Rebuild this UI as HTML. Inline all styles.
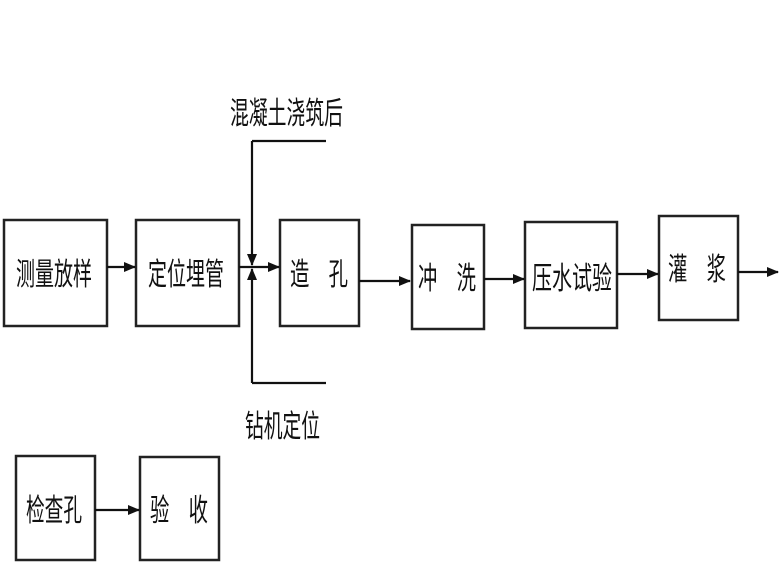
<!DOCTYPE html>
<html><head><meta charset="utf-8"><style>
html,body{margin:0;padding:0;background:#fff;}
svg{display:block;}
text{font-family:"Liberation Sans","Noto Sans CJK SC",sans-serif;font-size:31px;fill:#111;}
</style></head><body>
<svg width="780" height="585" viewBox="0 0 780 585" xmlns="http://www.w3.org/2000/svg">
<defs><marker id="a" markerWidth="12" markerHeight="10" refX="11" refY="5" orient="auto" markerUnits="userSpaceOnUse"><path d="M0,0 L12,5 L0,10 Z" fill="#111"/></marker></defs>
<g fill="none" stroke="#222" stroke-width="2.5">
<rect x="4" y="220" width="103" height="106"/>
<rect x="136" y="220" width="103" height="106"/>
<rect x="280" y="220" width="79" height="106"/>
<rect x="412" y="225" width="72" height="104"/>
<rect x="525" y="222" width="92" height="106"/>
<rect x="659" y="216" width="79" height="104"/>
<rect x="16" y="456" width="79" height="104"/>
<rect x="140" y="457" width="79" height="103"/>
</g>
<g stroke="#111" stroke-width="2.2" fill="none" marker-end="url(#a)">
<line x1="107" y1="267" x2="135" y2="267"/>
<line x1="239" y1="267" x2="279" y2="267"/>
<line x1="252" y1="141" x2="252" y2="265"/>
<line x1="252" y1="383" x2="252" y2="269"/>
<line x1="359" y1="281" x2="410" y2="281"/>
<line x1="484" y1="279" x2="524" y2="279"/>
<line x1="617" y1="274" x2="658" y2="274"/>
<line x1="738" y1="272" x2="778" y2="272"/>
<line x1="95" y1="510" x2="139" y2="510"/>
</g>
<g stroke="#111" stroke-width="2.2">
<line x1="252" y1="141" x2="326" y2="141"/>
<line x1="252" y1="383" x2="326" y2="383"/>
</g>
<text x="230" y="124" textLength="113" lengthAdjust="spacingAndGlyphs">混凝土浇筑后</text>
<text x="245" y="437" textLength="75" lengthAdjust="spacingAndGlyphs">钻机定位</text>
<text x="16" y="285" textLength="76" lengthAdjust="spacingAndGlyphs">测量放样</text>
<text x="148" y="285" textLength="76" lengthAdjust="spacingAndGlyphs">定位埋管</text>
<text x="290" y="285" textLength="58" lengthAdjust="spacingAndGlyphs">造　孔</text>
<text x="418" y="289" textLength="58" lengthAdjust="spacingAndGlyphs">冲　洗</text>
<text x="532" y="289" textLength="80" lengthAdjust="spacingAndGlyphs">压水试验</text>
<text x="668" y="280" textLength="58" lengthAdjust="spacingAndGlyphs">灌　浆</text>
<text x="26" y="521" textLength="56" lengthAdjust="spacingAndGlyphs">检查孔</text>
<text x="150" y="521" textLength="58" lengthAdjust="spacingAndGlyphs">验　收</text>
</svg>
</body></html>
